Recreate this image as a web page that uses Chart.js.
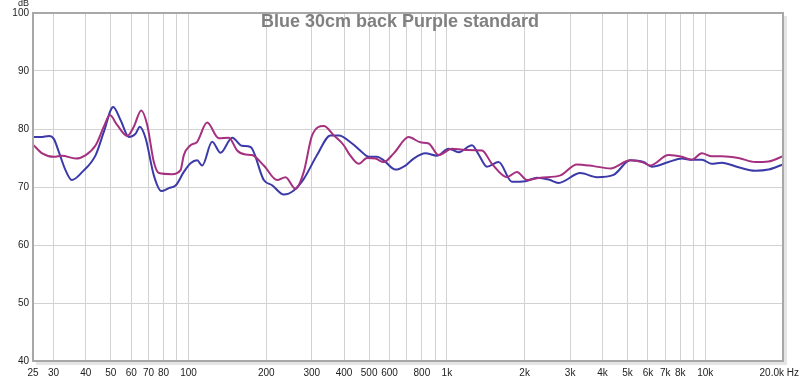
<!DOCTYPE html>
<html>
<head>
<meta charset="utf-8">
<script src="https://cdn.jsdelivr.net/npm/chart.js@4/dist/chart.umd.min.js"></script>
<style>
html,body{margin:0;padding:0;background:#fff;}
#wrap{width:800px;height:380px;position:relative;}
</style>
</head>
<body>
<div id="wrap"><canvas id="c" width="800" height="380"></canvas></div>
<script>
const chartTitle = 'Blue 30cm back Purple standard';
const yUnit = 'dB';

const blueFreq = [25,26.8,28.8,30.1,31.5,33.4,35.3,38.8,43.7,47.0,51.1,54.6,58.8,62.4,64.8,68.2,73.4,78.4,83.9,89.3,95.9,101.8,108,112.9,123.4,133,147.5,161.2,173.7,195.6,210.6,233.7,255.5,279.3,314.4,354.3,381.5,429.6,469.5,498.4,536.6,569.6,632.2,691.1,743.9,825.8,915.6,1016,1111,1251,1327,1429,1586,1786,2012,2232,2476,2707,3284,3808,4419,5128,5771,6214,7211,8118,8875,9701,10605,11592,13454,15612,17577,20000];
const blueDb = [78.6,78.6,78.8,78.3,76.0,72.9,71.2,72.6,75.5,79.5,83.8,81.5,78.6,79.2,80.4,78.4,72.0,69.3,69.8,70.3,72.6,74.1,74.6,73.7,77.8,75.9,78.5,77.1,76.9,71.2,70.3,68.7,69.4,71.4,75.5,78.9,78.9,77.5,76.0,75.2,75.2,74.6,73.0,73.7,74.9,75.8,75.4,76.6,76.0,77.2,75.6,73.5,74.3,70.9,71.0,71.6,71.3,70.7,72.4,71.7,72.1,74.6,74.3,73.5,74.3,74.9,74.7,74.7,74.0,74.2,73.4,72.8,73.0,73.9];

const purpleFreq = [25,27.15,30.1,32.4,36.6,40.0,43.7,47.0,49.6,52.9,57.9,61.4,65.6,69.2,73.4,76.8,86.4,93.1,95.9,101.8,108,118,131,143.2,154.2,166.1,176.2,195.6,220.2,237.3,259.4,279.3,300.8,333.8,364.9,398.9,417,455.9,490.9,529,569.6,622.7,711.6,789.9,850.4,929.7,1046,1179,1367,1494,1708,1867,2041,2300,2749,3187,3698,4291,5128,5771,6126,7211,8118,8875,9701,10605,11592,13454,15612,17577,20000];
const purpleDb = [77.3,75.8,75.2,75.4,74.9,75.5,77.2,80.4,82.4,80.7,78.8,80.4,83.2,80.7,74.3,72.4,72.2,72.9,75.5,77.2,77.8,81.1,78.4,78.5,76.3,75.6,75.5,73.7,71.2,71.7,69.7,72.6,78.9,80.5,78.9,77.2,75.8,74.0,75.0,74.9,74.3,75.8,78.6,77.7,77.5,75.5,76.6,76.4,76.3,74.0,71.7,72.6,71.2,71.6,72.0,73.9,73.6,73.2,74.6,74.2,73.7,75.5,75.2,74.7,75.8,75.3,75.3,75.0,74.3,74.4,75.3];

const gridFreqs = [25,30,40,50,60,70,80,90,100,200,300,400,500,600,700,800,900,1000,2000,3000,4000,5000,6000,7000,8000,9000,10000,20000];
const gridLabels = ['25','30','40','50','60','70','80','','100','200','300','400','500','600','','800','','1k','2k','3k','4k','5k','6k','7k','8k','','10k','20.0k Hz'];
const yTicks = [40,50,60,70,80,90,100];

const toPts = (f, v) => f.map((x, i) => ({x: x, y: v[i]}));
const FONT = '"Liberation Sans", Arial, sans-serif';

const frame = {
  id: 'frame',
  beforeDraw(chart) {
    const {ctx, chartArea: a} = chart;
    ctx.save();
    ctx.fillStyle = '#ffffff';
    ctx.fillRect(a.left, a.top, a.right - a.left, a.bottom - a.top);
    ctx.restore();
  },
  afterDatasetsDraw(chart) {
    const {ctx, chartArea: a} = chart;
    ctx.save();
    ctx.strokeStyle = 'rgba(0,0,0,0.10)';
    ctx.lineWidth = 3;
    ctx.beginPath();
    ctx.moveTo(a.right + 2.5, a.top + 3);
    ctx.lineTo(a.right + 2.5, a.bottom + 2.5);
    ctx.lineTo(a.left + 3, a.bottom + 2.5);
    ctx.stroke();
    ctx.strokeStyle = '#a8a8a8';
    ctx.lineWidth = 2;
    ctx.strokeRect(a.left, a.top, a.right - a.left, a.bottom - a.top);
    ctx.fillStyle = '#808080';
    ctx.font = 'bold 18px ' + FONT;
    ctx.textAlign = 'center';
    ctx.textBaseline = 'middle';
    ctx.fillText(chartTitle, 400, 22);
    ctx.fillStyle = '#222';
    ctx.font = '9px ' + FONT;
    ctx.textAlign = 'right';
    ctx.fillText(yUnit, 29, 4);
    // last x label, kept inside the canvas as in the reference
    const last = gridLabels.length - 1;
    ctx.font = '10px ' + FONT;
    ctx.textAlign = 'right';
    ctx.fillText(gridLabels[last], 799, 373);
    ctx.restore();
  }
};

new Chart(document.getElementById('c'), {
  type: 'line',
  data: {
    datasets: [
      {label: 'Purple', data: toPts(purpleFreq, purpleDb), borderColor: '#a5307f', borderWidth: 2, pointRadius: 0, cubicInterpolationMode: 'monotone', fill: false},
      {label: 'Blue', data: toPts(blueFreq, blueDb), borderColor: '#3b3aa8', borderWidth: 2, pointRadius: 0, cubicInterpolationMode: 'monotone', fill: false}
    ]
  },
  options: {
    responsive: false,
    animation: false,
    layout: {padding: {top: 13, right: 17, left: 0, bottom: 0}},
    plugins: {legend: {display: false}, tooltip: {enabled: false}, title: {display: false}},
    scales: {
      x: {
        type: 'logarithmic',
        min: 25, max: 20000,
        afterBuildTicks(scale) { scale.ticks = gridFreqs.map(v => ({value: v})); },
        afterFit(scale) { scale.height = 19; scale.paddingLeft = 0; scale.paddingRight = 0; },
        grid: {color: '#d2d2d2', lineWidth: 1, drawTicks: false},
        border: {display: false},
        ticks: {
          autoSkip: false, maxRotation: 0, minRotation: 0, padding: 6,
          color: '#222', font: {family: FONT, size: 10},
          callback(value) { const i = gridFreqs.indexOf(value); return (i >= 0 && i < gridLabels.length - 1) ? gridLabels[i] : ''; }
        }
      },
      y: {
        type: 'linear',
        min: 40, max: 100,
        afterBuildTicks(scale) { scale.ticks = yTicks.map(v => ({value: v})); },
        afterFit(scale) { scale.width = 33; },
        grid: {color: '#d2d2d2', lineWidth: 1, drawTicks: false},
        border: {display: false},
        ticks: {
          padding: 4, color: '#222',
          font: {family: FONT, size: 10},
          callback(v) { return String(v); }
        }
      }
    }
  },
  plugins: [frame]
});
</script>
</body>
</html>
